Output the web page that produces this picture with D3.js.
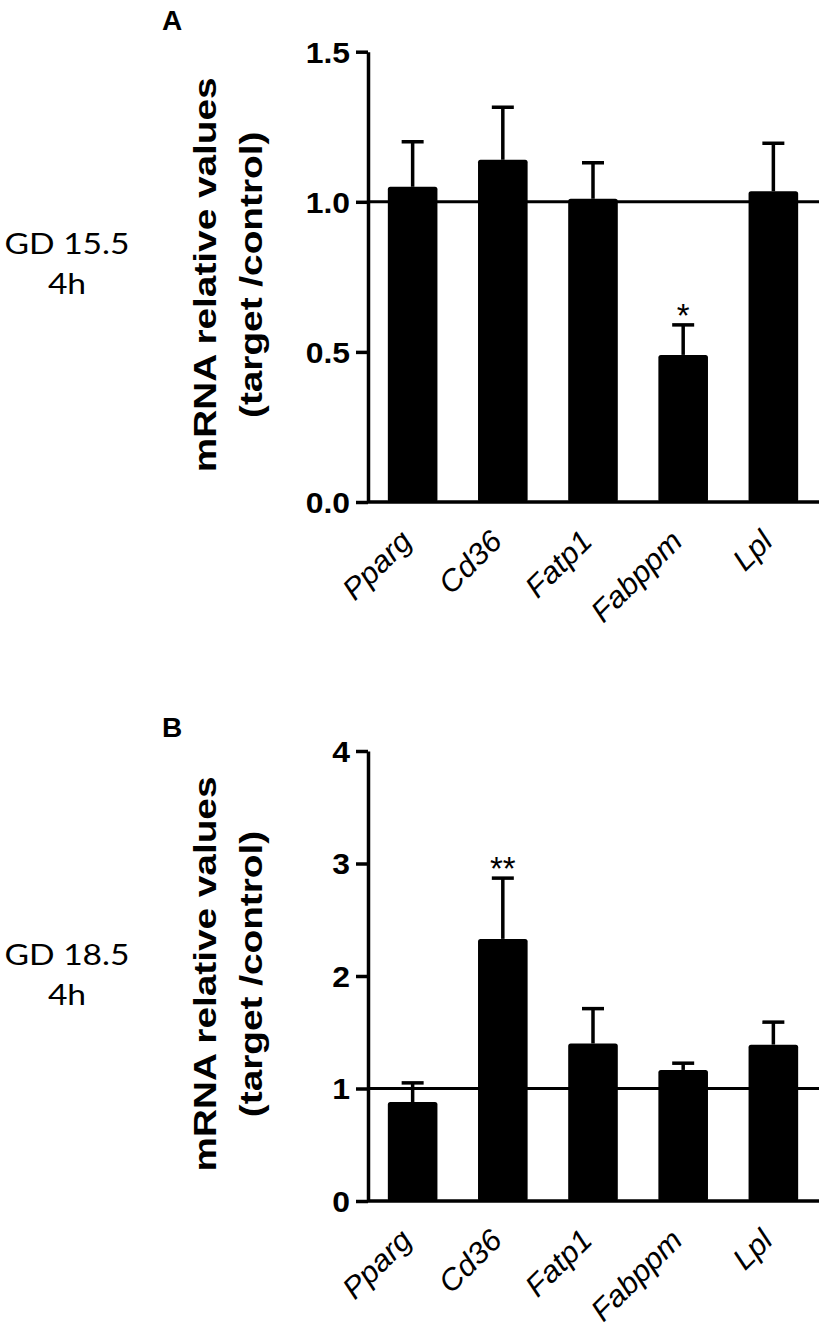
<!DOCTYPE html>
<html>
<head>
<meta charset="utf-8">
<script src="https://cdn.jsdelivr.net/npm/d3@7"></script>
<style>
  body { margin: 0; background: #fff; }
  svg { display: block; }
  .tick text { font-family: "Liberation Sans", Arial, sans-serif; font-weight: bold; }
</style>
</head>
<body>
<svg id="chart"></svg>
<script>
var width = 829,
    height = 1333;

// gene names on the x axis (same for both panels)
var genes = ["Pparg", "Cd36", "Fatp1", "Fabppm", "Lpl"];

// panel A: GD 15.5, 4h
var meanA = [1.05, 1.14, 1.01, 0.49, 1.035];
var errA = [0.15, 0.175, 0.12, 0.10, 0.16];
var starsA = ["", "", "", "*", ""];
var ticksA = [0, 0.5, 1.0, 1.5];

// panel B: GD 18.5, 4h
var meanB = [0.88, 2.33, 1.40, 1.165, 1.39];
var errB = [0.17, 0.54, 0.31, 0.06, 0.20];
var starsB = ["", "**", "", "", ""];
var ticksB = [0, 1, 2, 3, 4];

var svg = d3.select("#chart")
    .attr("width", width)
    .attr("height", height);

var x = d3.scaleBand()
    .domain(genes)
    .range([368, 818])
    .paddingInner(0.45)
    .paddingOuter(0.22);

// the original figure uses rather wide lettering, so widen the glyphs a bit
function stretch(sel, k) {
    sel.each(function() {
        d3.select(this)
            .attr("textLength", this.getComputedTextLength() * k)
            .attr("lengthAdjust", "spacingAndGlyphs");
    });
}

function panel(opts) {
    var y = d3.scaleLinear()
        .domain(opts.domain)
        .range(opts.range);
    var g = svg.append("g");
    var rows = genes.map(function(name, i) {
        return {name: name, mean: opts.mean[i], err: opts.err[i], star: opts.stars[i]};
    });
    var cx = function(d) { return x(d.name) + x.bandwidth() / 2; };

    // bars
    g.append("g")
        .selectAll("rect")
        .data(rows)
        .enter().append("rect")
            .attr("x", function(d) { return x(d.name); })
            .attr("y", function(d) { return y(d.mean); })
            .attr("width", x.bandwidth())
            .attr("height", function(d) { return y(0) - y(d.mean); })
            .attr("rx", 2.5)
            .attr("fill", "#000");

    // error bars (upper half only)
    var eb = g.append("g").selectAll("g")
        .data(rows)
        .enter().append("g");
    eb.append("line")
        .attr("x1", cx)
        .attr("x2", cx)
        .attr("y1", function(d) { return y(d.mean); })
        .attr("y2", function(d) { return y(d.mean + d.err); })
        .attr("stroke", "#000")
        .attr("stroke-width", 3.5);
    eb.append("line")
        .attr("x1", function(d) { return cx(d) - 11; })
        .attr("x2", function(d) { return cx(d) + 11; })
        .attr("y1", function(d) { return y(d.mean + d.err); })
        .attr("y2", function(d) { return y(d.mean + d.err); })
        .attr("stroke", "#000")
        .attr("stroke-width", 3.5);

    // significance stars
    g.append("g").selectAll("text")
        .data(rows.filter(function(d) { return d.star; }))
        .enter().append("text")
            .attr("x", cx)
            .attr("y", function(d) { return y(d.mean + d.err) + 2; })
            .attr("text-anchor", "middle")
            .style("font-family", "Liberation Sans, Arial, sans-serif")
            .style("font-size", "33px")
            .text(function(d) { return d.star; });

    // reference line at 1
    g.append("line")
        .attr("x1", x.range()[0])
        .attr("x2", x.range()[1] + 1)
        .attr("y1", y(1))
        .attr("y2", y(1))
        .attr("stroke", "#000")
        .attr("stroke-width", 3);

    // y axis
    var yAxis = g.append("g")
        .attr("transform", "translate(" + x.range()[0] + ",0)")
        .call(d3.axisLeft(y)
            .tickValues(opts.ticks)
            .tickFormat(d3.format(opts.fmt))
            .tickSize(12)
            .tickSizeOuter(0)
            .tickPadding(6));
    yAxis.select(".domain").attr("stroke-width", 3.5);
    yAxis.selectAll(".tick line").attr("stroke-width", 3.5);
    yAxis.selectAll(".tick text")
        .style("font-size", "29px")
        .attr("dy", "0.36em")
        .call(stretch, 1.1);

    // x axis
    var xAxis = g.append("g")
        .attr("transform", "translate(0," + y(0) + ")")
        .call(d3.axisBottom(x).tickSize(0).tickPadding(0));
    xAxis.select(".domain")
        .attr("d", "M" + x.range()[0] + ",0H" + (x.range()[1] + 1))
        .attr("stroke-width", 3.5);
    xAxis.selectAll(".tick text")
        .attr("y", 0)
        .attr("dy", 0)
        .attr("text-anchor", "end")
        .attr("transform", "translate(1,41) rotate(-45)")
        .style("font-family", "Liberation Sans, Arial, sans-serif")
        .style("font-weight", "normal")
        .style("font-style", "italic")
        .style("font-size", "30px")
        .call(stretch, 1.04);

    // y axis title, two lines
    var mid = (y.range()[0] + y.range()[1]) / 2 - 2;
    var lines = ["mRNA relative values", "(target /control)"];
    g.append("g").selectAll("text")
        .data(lines)
        .enter().append("text")
            .attr("transform", function(d, i) {
                return "translate(" + (216 + i * 46) + "," + mid + ") rotate(-90)";
            })
            .attr("text-anchor", "middle")
            .style("font-family", "Liberation Sans, Arial, sans-serif")
            .style("font-weight", "bold")
            .style("font-size", "31px")
            .text(function(d) { return d; })
            .call(stretch, 1.25);

    // panel letter
    g.append("text")
        .attr("x", 172)
        .attr("y", opts.letterY)
        .attr("text-anchor", "middle")
        .style("font-family", "Liberation Sans, Arial, sans-serif")
        .style("font-weight", "bold")
        .style("font-size", "28px")
        .text(opts.letter);

    // gestational day label on the left
    g.append("g").selectAll("text")
        .data(opts.side)
        .enter().append("text")
            .attr("x", 67)
            .attr("y", function(d, i) { return opts.sideY + i * 40; })
            .attr("text-anchor", "middle")
            .style("font-family", "Lato, 'Open Sans', sans-serif")
            .style("font-size", "28px")
            .text(function(d) { return d; })
            .call(stretch, 1.2);
}

panel({
    domain: [0, 1.5], range: [502, 51.7],
    mean: meanA, err: errA, stars: starsA,
    ticks: ticksA, fmt: ".1f",
    letter: "A", letterY: 30,
    side: ["GD 15.5", "4h"], sideY: 254
});

panel({
    domain: [0, 4], range: [1201, 751],
    mean: meanB, err: errB, stars: starsB,
    ticks: ticksB, fmt: "d",
    letter: "B", letterY: 737,
    side: ["GD 18.5", "4h"], sideY: 965
});
</script>
</body>
</html>
